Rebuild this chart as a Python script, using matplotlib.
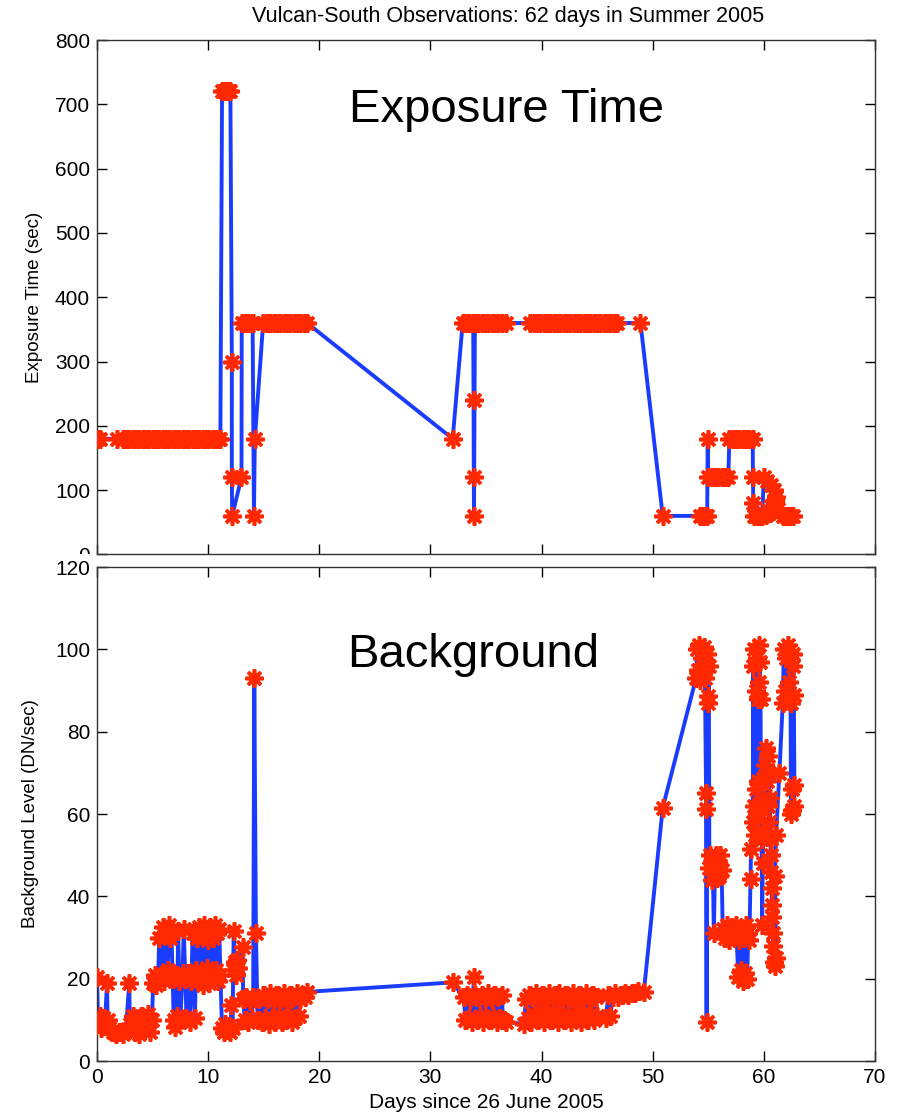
import matplotlib
matplotlib.use('Agg')

import matplotlib.pyplot as plt
from matplotlib.transforms import Bbox, TransformedBbox, IdentityTransform

# exposure time per observation (days since 26 June 2005, seconds)
exp_days = [0.0, 0.3, 1.8, 2.3, 2.6, 2.9, 3.2, 3.5, 3.8, 4.1, 4.4, 4.7, 5.0, 5.3, 5.6, 5.9,
            6.2, 6.5, 6.8, 7.1, 7.4, 7.7, 8.0, 8.3, 8.6, 8.9, 9.2, 9.5, 9.8, 10.1, 10.4, 10.7,
            11.0, 11.1,
            11.25, 11.4, 11.55, 11.7, 11.85, 12.0,
            12.13, 12.13, 12.16, 13.0, 13.02,
            13.3, 13.6, 13.9, 14.0,
            14.12, 14.2, 14.95,
            15.3, 15.6, 15.9, 16.2, 16.5, 16.8, 17.1, 17.4, 17.7, 18.0, 18.3, 18.6, 18.9,
            32.0,
            32.9, 33.2, 33.5, 33.85,
            33.88, 33.9, 33.92, 34.0,
            34.3, 34.6, 34.9, 35.2, 35.5, 35.8, 36.1, 36.4, 36.8,
            39.0, 39.3, 39.6, 39.9, 40.2, 40.5, 40.8, 41.1, 41.4, 41.7, 42.0, 42.3, 42.6,
            42.9, 43.2, 43.5, 43.8, 44.1, 44.4, 44.7, 45.0, 45.3, 45.6, 45.9, 46.2, 46.5, 46.8,
            48.9,
            50.9,
            54.3, 54.5, 54.7, 54.9,
            54.95,
            55.0, 55.3, 55.6, 55.9, 56.2, 56.5, 56.8,
            56.9, 57.2, 57.5, 57.8, 58.1, 58.4, 58.7, 59.0,
            59.02, 59.05,
            59.1, 59.3, 59.5, 59.7, 59.85,
            60.0, 60.3, 60.6, 60.9, 61.1, 61.0, 60.8, 60.5, 60.2, 60.6, 61.0, 61.3, 61.7,
            62.0, 62.2, 62.4, 62.6]
exp_vals = [180] * 34 + \
           [720] * 6 + \
           [300, 120, 60, 120, 360] + \
           [360] * 4 + \
           [60, 180, 360] + \
           [360] * 13 + \
           [180] + \
           [360] * 4 + \
           [240, 120, 60, 360] + \
           [360] * 9 + \
           [360] * 27 + \
           [360] + \
           [60] + \
           [60] * 4 + \
           [180] + \
           [120] * 7 + \
           [180] * 8 + \
           [120, 80] + \
           [60] * 5 + \
           [120, 115, 108, 100, 90, 80, 72, 65, 62, 75, 85, 70, 60] + \
           [60] * 4

# background level per observation (DN/sec)
bg_days = [0.0, 0.1, 0.25, 0.4, 0.55, 0.7, 0.9, 0.95, 1.1, 1.4, 1.7, 2.0, 2.3, 2.6, 2.9,
           2.95, 3.2, 3.4, 3.6, 3.8, 4.0, 4.2, 4.4, 4.6, 4.8, 4.95,
           5.05, 5.2, 5.35, 5.5, 5.6, 5.75, 5.9, 6.05, 6.2, 6.35, 6.5, 6.6, 6.7, 6.8,
           6.9, 7.0, 7.1, 7.2, 7.3, 7.4, 7.5, 7.7, 7.8, 7.95, 8.05, 8.2, 8.35, 8.5,
           8.6, 8.7, 8.8, 8.9, 9.0, 9.1, 9.2, 9.3, 9.4, 9.5, 9.6, 9.7, 9.8, 9.9, 10.0,
           10.1, 10.2, 10.3, 10.4, 10.5, 10.6, 10.7, 10.8, 10.9, 11.0, 11.1,
           11.25, 11.4, 11.55, 11.7, 11.85, 12.0, 12.1, 12.2, 12.25, 12.3, 12.4, 12.5,
           12.6, 12.7, 13.1, 13.15, 13.3, 13.45, 13.6, 13.75, 13.9, 14.05, 14.15, 14.3,
           14.45, 14.6, 14.8, 14.95, 15.1, 15.3, 15.45, 15.6, 15.75, 15.9, 16.05, 16.2,
           16.35, 16.5, 16.65, 16.8, 16.95, 17.1, 17.25, 17.4, 17.55, 17.7, 17.85, 18.0,
           18.15, 18.3, 18.5, 18.7, 18.9,
           32.0, 33.0, 33.15, 33.3, 33.45, 33.6, 33.75, 33.9, 34.0, 34.15, 34.3, 34.45,
           34.6, 34.75, 34.9, 35.05, 35.2, 35.35, 35.5, 35.65, 35.8, 35.95, 36.1, 36.25,
           36.4, 36.55, 36.8,
           38.4, 38.6, 38.75, 38.9, 39.05, 39.2, 39.35, 39.5, 39.65, 39.8, 39.95, 40.1,
           40.25, 40.4, 40.55, 40.7, 40.85, 41.0, 41.15, 41.3, 41.45, 41.6, 41.75, 41.9,
           42.05, 42.2, 42.35, 42.5, 42.65, 42.8, 42.95, 43.1, 43.25, 43.4, 43.55, 43.7,
           43.85, 44.0, 44.15, 44.3, 44.45, 44.6, 44.75, 44.9, 45.0, 45.8, 46.0, 46.2,
           46.4, 46.6, 46.9, 47.2, 47.5, 47.8, 48.1, 48.4, 48.7, 49.2,
           50.9, 53.9, 54.0, 54.1, 54.2, 54.3, 54.4, 54.5, 54.6, 54.7, 54.8, 54.8,
           54.85, 54.9, 54.95, 55.0, 55.05, 55.1, 55.2, 55.3, 55.4, 55.5, 55.6, 55.7,
           55.8, 55.9, 56.0, 56.1, 56.2, 56.3, 56.5, 56.7, 56.9, 57.1, 57.3, 57.5,
           57.7, 57.8, 57.9, 58.0, 58.1, 58.2, 58.3, 58.4, 58.5, 58.6, 58.7, 58.8,
           58.85, 59.0, 59.05, 59.1, 59.15, 59.2, 59.25, 59.3, 59.35, 59.4, 59.45, 59.5,
           59.55, 59.6, 59.65, 59.7, 59.75, 59.8, 59.85, 59.9, 59.95, 60.0, 60.1, 60.2,
           60.3, 60.35, 60.4, 60.45, 60.5, 60.55, 60.6, 60.6, 60.65, 60.7, 60.7, 60.75,
           60.8, 60.85, 60.9, 61.0, 61.1, 61.0, 61.1, 61.4, 61.7, 61.8, 61.9, 62.0,
           62.1, 62.2, 62.3, 62.4, 62.45, 62.5, 62.55, 62.6, 62.65, 62.7, 62.75, 62.7]
bg_vals = [20.5, 9.0, 11.0, 8.0, 10.5, 8.5, 19.0, 10.0, 8.0, 7.0, 6.5, 7.0, 6.5, 7.5, 19.0,
           9.0, 11.0, 7.0, 10.0, 6.5, 11.0, 7.5, 9.5, 11.5, 7.0, 10.0,
           19.0, 21.0, 18.5, 20.5, 30.0, 21.0, 32.5, 19.5, 30.5, 22.0, 33.0, 30.0, 31.0, 20.0,
           10.0, 8.2, 21.0, 11.0, 31.5, 19.5, 10.0, 21.5, 32.0, 20.0, 10.5, 21.5, 9.5, 19.5,
           31.0, 20.5, 10.5, 22.0, 30.0, 19.5, 32.5, 21.0, 30.5, 18.5, 33.0, 20.0, 31.0, 22.5, 29.5,
           19.0, 32.5, 21.0, 30.0, 20.5, 33.0, 22.0, 31.0, 19.5, 32.0, 21.0,
           8.0, 7.0, 9.0, 7.5, 8.5, 7.0, 13.5, 8.0, 22.0, 31.7, 24.0, 21.0,
           24.5, 22.5, 27.6, 15.0, 10.0, 15.5, 9.5, 14.5, 10.5, 15.5, 93.0, 31.2,
           10.0, 15.0, 9.5, 16.0, 10.5, 15.0, 9.0, 16.5, 10.5, 14.5, 9.5, 16.0,
           11.0, 15.0, 9.5, 16.5, 10.0, 14.5, 11.0, 16.0, 9.5, 15.5, 10.5, 16.5,
           11.0, 15.0, 16.0, 15.5, 16.8,
           19.1, 15.5, 10.0, 16.0, 10.5, 15.0, 9.5, 20.4, 16.0, 10.0, 15.5, 11.0,
           16.0, 9.5, 15.0, 10.5, 16.5, 10.0, 15.0, 11.0, 16.0, 9.5, 15.5, 10.5,
           16.0, 10.0, 9.5,
           9.0, 15.0, 10.5, 16.0, 9.5, 15.5, 11.5, 16.5, 10.0, 15.0, 12.0, 16.0,
           9.5, 15.5, 11.0, 16.5, 10.0, 15.0, 12.0, 16.0, 9.5, 16.5, 11.0, 15.0,
           10.0, 16.0, 11.5, 15.5, 9.5, 16.5, 10.5, 15.0, 12.0, 16.0, 9.5, 15.5,
           11.0, 16.5, 10.0, 15.0, 11.5, 16.0, 10.0, 15.5, 11.0, 10.5, 16.0, 11.0,
           15.5, 16.5, 15.5, 16.0, 16.5, 16.0, 16.5, 16.5, 17.0, 16.7,
           61.5, 93.0, 100.0, 95.0, 101.0, 92.5, 98.0, 94.0, 100.5, 93.0, 65.0, 61.3,
           9.5, 99.0, 88.6, 87.0, 96.0, 47.0, 50.0, 44.0, 49.0, 31.0, 46.0, 50.0,
           44.5, 48.0, 45.0, 50.0, 46.5, 32.0, 30.0, 33.0, 29.5, 32.5, 30.5, 33.0,
           20.5, 29.5, 22.0, 32.0, 19.5, 30.0, 21.5, 33.0, 20.0, 31.0, 29.5, 44.3,
           51.6, 58.0, 96.0, 62.0, 100.0, 55.0, 90.0, 66.0, 98.0, 60.0, 88.0, 68.0,
           101.0, 92.0, 97.0, 88.0, 62.0, 54.0, 33.0, 48.0, 56.0, 64.0, 72.0, 76.0,
           68.0, 74.0, 62.0, 70.0, 58.0, 64.0, 54.0, 50.0, 46.0, 42.0, 38.0, 35.0,
           31.0, 28.0, 24.0, 23.0, 25.0, 45.0, 55.0, 70.0, 87.0, 100.0, 90.0, 98.0,
           88.0, 101.0, 92.0, 87.0, 60.0, 66.0, 61.0, 96.0, 99.0, 89.0, 67.0, 62.0]

line_color = '#1a3cff'
star_color = '#ff2800'
star = (8, 2, 0)

plt.rcParams['font.family'] = ['Liberation Sans', 'DejaVu Sans']

fig = plt.figure(figsize=(9, 11.15), dpi=100)
ax1 = fig.add_axes([0.1078, 0.5027, 0.8644, 0.4614])
ax2 = fig.add_axes([0.1078, 0.0484, 0.8644, 0.4430])

for ax, x, y in ((ax1, exp_days, exp_vals), (ax2, bg_days, bg_vals)):
    ax.plot(x, y, '-', color=line_color, lw=2.8, zorder=2)
    ax.plot(x, y, ls='none', marker=star, ms=13, mew=2.6,
            mec=star_color, mfc=star_color, zorder=3)

ax1.set_xlim(0, 70)
ax1.set_ylim(0, 800)
ax1.set_yticks(range(0, 801, 100))
ax1.set_xticks(range(0, 71, 10))
ax1.tick_params(labelbottom=False)
ax2.set_xlim(0, 70)
ax2.set_ylim(0, 120)
ax2.set_yticks(range(0, 121, 20))
ax2.set_xticks(range(0, 71, 10))

for ax in (ax1, ax2):
    ax.tick_params(direction='in', length=7, width=1, top=True, right=True,
                   labelsize=15, pad=5, colors='black')
    for s in ax.spines.values():
        s.set_linewidth(1)
        s.set_color('#333333')

ax1.set_ylabel('Exposure Time (sec)', fontsize=13.5)
ax2.set_ylabel('Background Level (DN/sec)', fontsize=13.5)
ax2.set_xlabel('Days since 26 June 2005', fontsize=15, labelpad=4)
ax1.yaxis.set_label_coords(-0.07, 0.5)
ax2.yaxis.set_label_coords(-0.074, 0.5)

ax1.text(0.526, 0.864, 'Exposure Time', transform=ax1.transAxes,
         fontsize=34, ha='center', va='center')
ax2.text(0.483, 0.822, 'Background', transform=ax2.transAxes,
         fontsize=34, ha='center', va='center')

fig.text(0.565, 0.985, 'Vulcan-South Observations: 62 days in Summer 2005',
         fontsize=15.5, ha='center', va='center')

# the lower panel hides the bottom half of the upper panel's "0"
zero_label = ax1.yaxis.get_major_ticks()[0].label1
zero_label.set_clip_box(TransformedBbox(Bbox.from_extents(0, 561, 900, 1115),
                                        IdentityTransform()))
zero_label.set_clip_on(True)

fig.savefig('out.png', dpi=100)
